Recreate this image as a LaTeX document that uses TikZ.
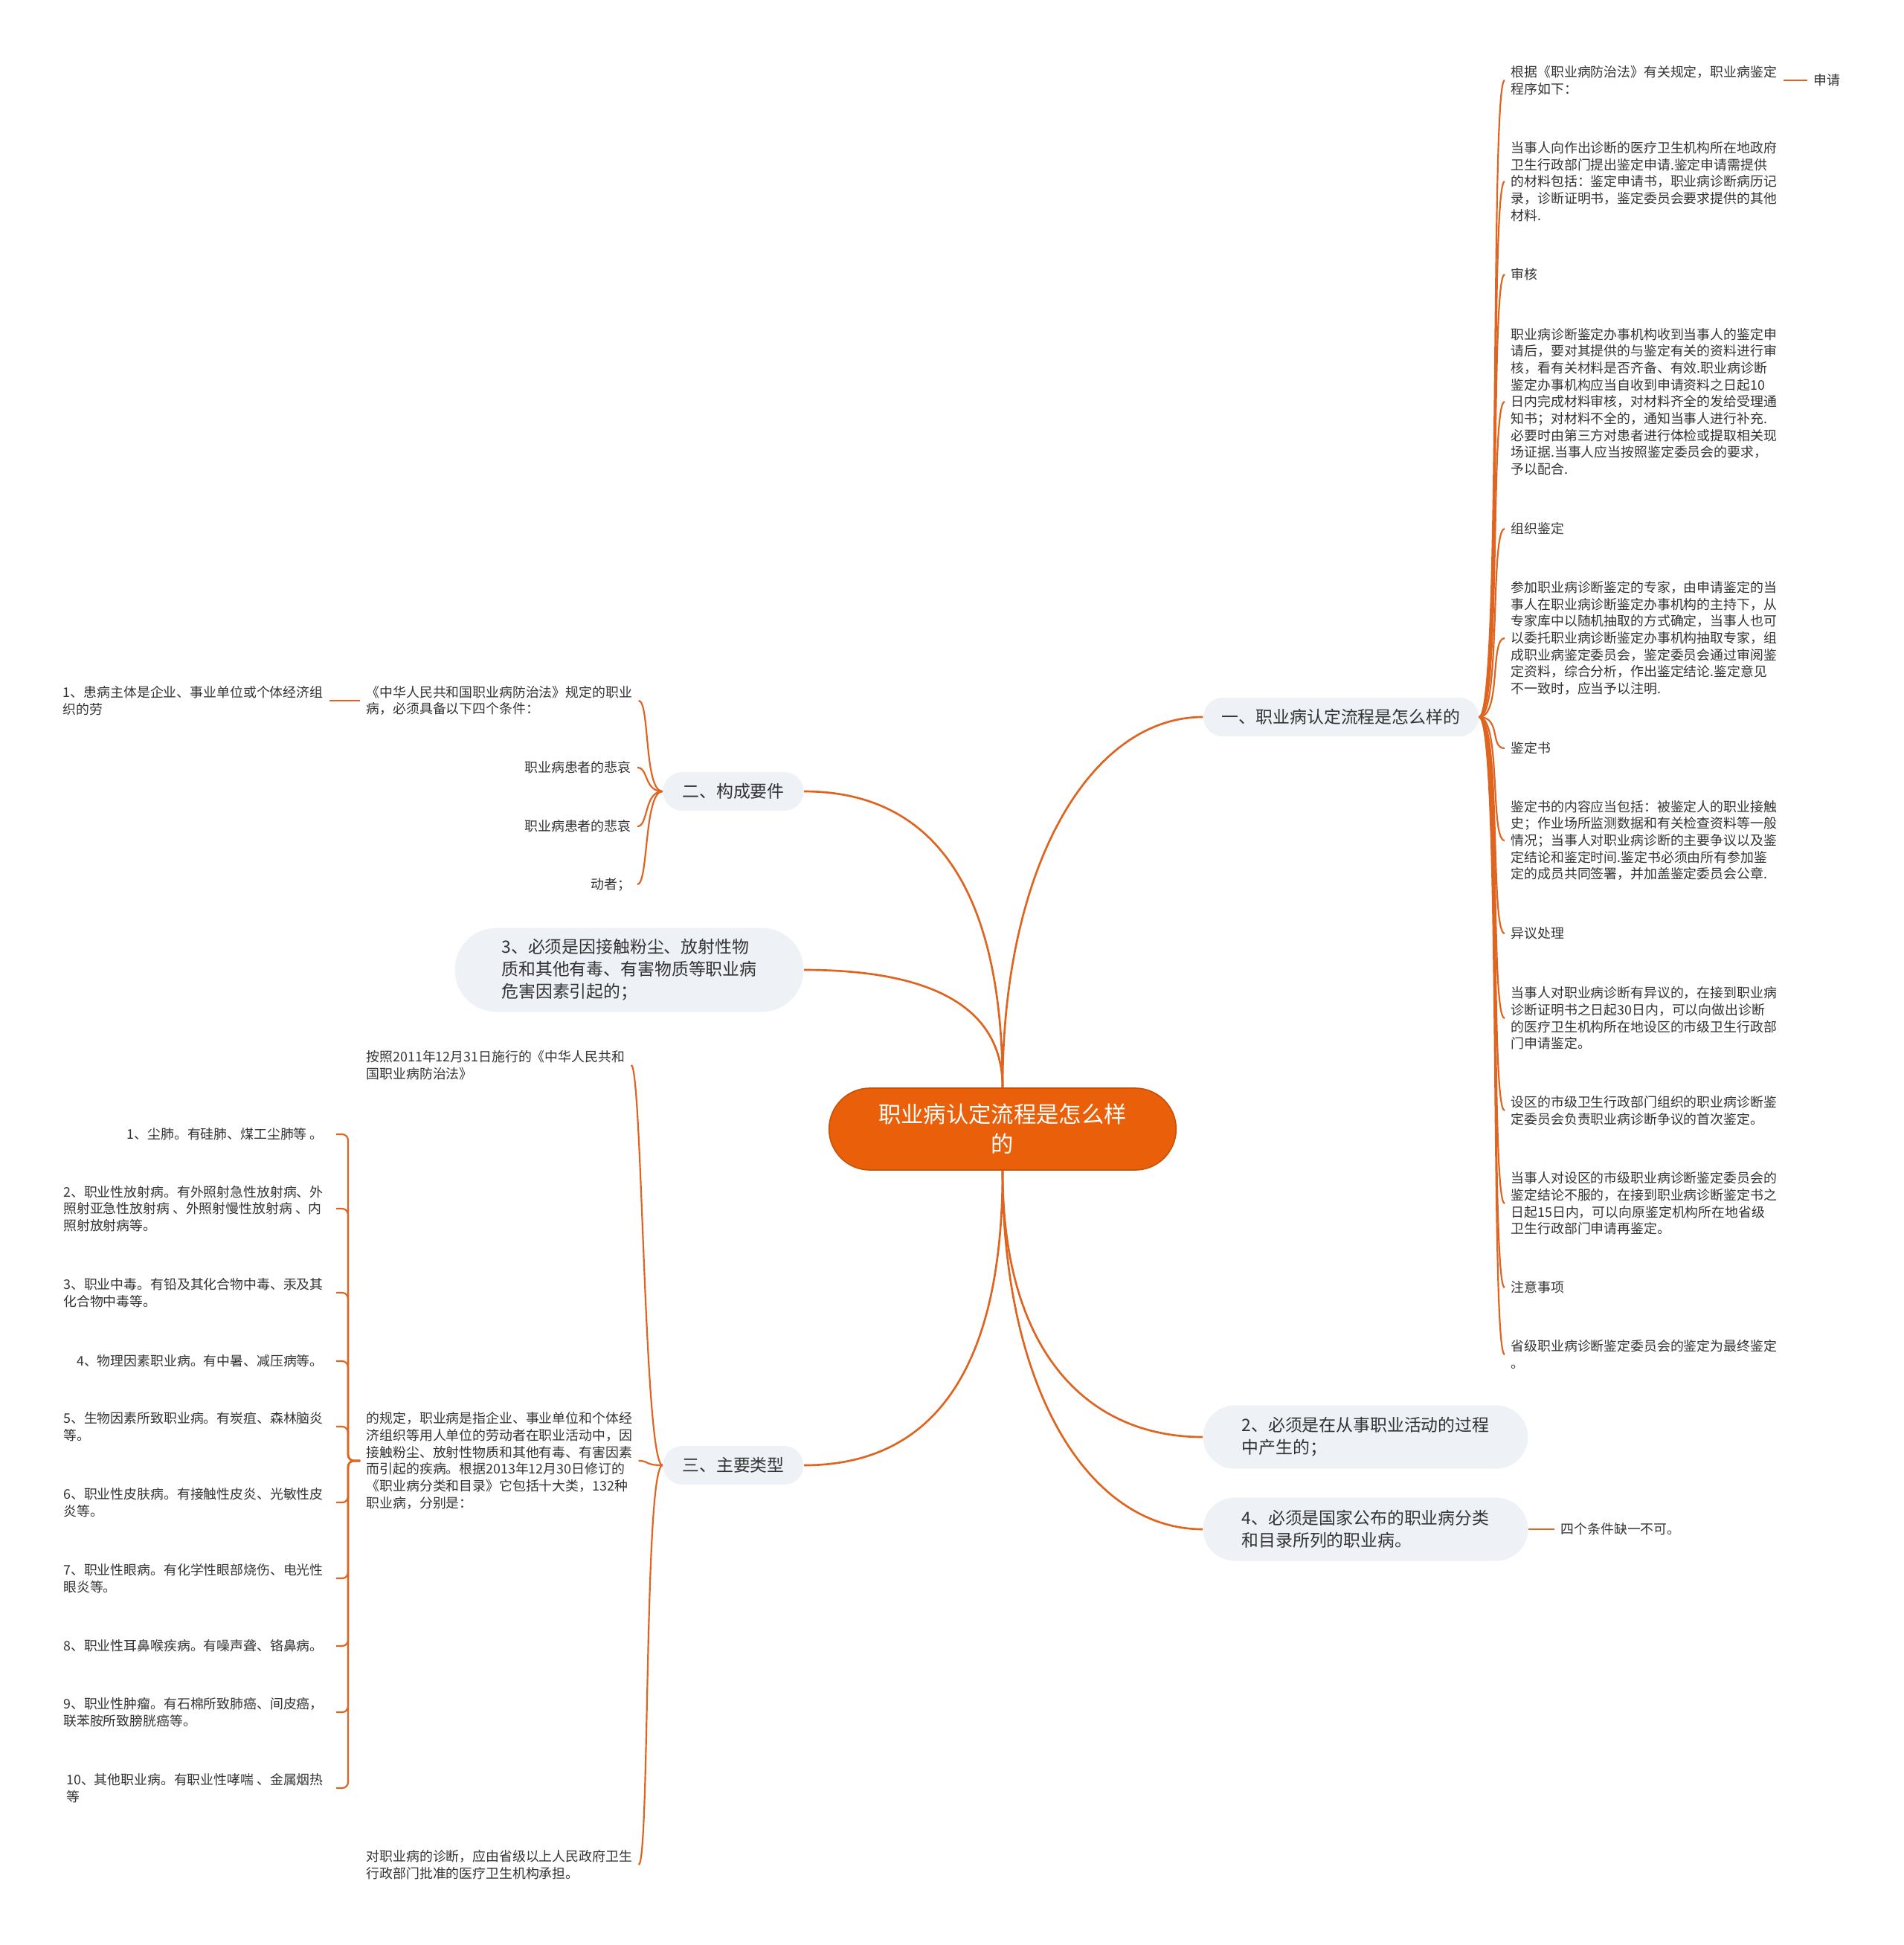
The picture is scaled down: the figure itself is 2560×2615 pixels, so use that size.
\documentclass[tikz,border=0pt]{standalone}
\usepackage{fontspec}
\setmainfont{Noto Sans CJK SC}

\definecolor{rootc}{HTML}{EA600A}
\definecolor{linkc}{HTML}{DE6420}
\definecolor{boxc}{HTML}{EEF1F5}
\definecolor{txtc}{HTML}{333333}

\newcommand{\topicfont}{\fontsize{9.1pt}{12pt}\selectfont}
\newcommand{\branchfont}{\fontsize{6.86pt}{9pt}\selectfont}
\newcommand{\leaffont}{\fontsize{5.36pt}{6.8pt}\selectfont}

\tikzset{
  topic/.style={fill=rootc, draw=rootc!85!black, line width=0.5pt, text=white,
    font=\topicfont, align=center, minimum width=140pt, minimum height=33pt,
    rounded corners=16.5pt},
  branch/.style={fill=boxc, text=txtc, font=\branchfont, align=left,
    minimum height=15.6pt, rounded corners=7.8pt},
  leaf/.style={text=txtc, font=\leaffont, align=left, inner xsep=2.4pt, inner ysep=1pt},
  link/.style={draw=linkc, line width=0.8pt},
  twig/.style={draw=linkc, line width=0.65pt},
}

\begin{document}
\begin{tikzpicture}[x=0.3pt, y=-0.3pt]
    \useasboundingbox (0,0) rectangle (2560,2615);

    % Central topic
    \node[topic] (root) at (1348,1518) {职业病认定流程是怎么样\\的};

    % Main branches
    \node[branch, minimum width=111pt] (b1) at (1803,964) {一、职业病认定流程是怎么样的};
    \node[branch, minimum width=56.7pt] (b2) at (986,1064) {二、构成要件};
    \node[branch, minimum width=140.7pt, minimum height=33.9pt, rounded corners=16.9pt] (n3) at (846,1304)
        {3、必须是因接触粉尘、放射性物\\质和其他有毒、有害物质等职业病\\危害因素引起的；};
    \node[branch, minimum width=56.7pt] (b3) at (986,1970) {三、主要类型};
    \node[branch, minimum width=131pt, minimum height=25.5pt, rounded corners=12.7pt] (n2) at (1836,1932)
        {2、必须是在从事职业活动的过程\\中产生的；};
    \node[branch, minimum width=131pt, minimum height=25.5pt, rounded corners=12.7pt] (n4) at (1836,2056)
        {4、必须是国家公布的职业病分类\\和目录所列的职业病。};

    % Branch 1: procedure
    \node[leaf, anchor=west] (r1) at (2023,108) {根据《职业病防治法》有关规定，职业病鉴定\\程序如下：};
    \node[leaf, anchor=west] (r2) at (2023,244) {当事人向作出诊断的医疗卫生机构所在地政府\\卫生行政部门提出鉴定申请.鉴定申请需提供\\的材料包括：鉴定申请书，职业病诊断病历记\\录，诊断证明书，鉴定委员会要求提供的其他\\材料.};
    \node[leaf, anchor=west] (r3) at (2023,369) {审核};
    \node[leaf, anchor=west] (r4) at (2023,540) {职业病诊断鉴定办事机构收到当事人的鉴定申\\请后，要对其提供的与鉴定有关的资料进行审\\核，看有关材料是否齐备、有效.职业病诊断\\鉴定办事机构应当自收到申请资料之日起10\\日内完成材料审核，对材料齐全的发给受理通\\知书；对材料不全的，通知当事人进行补充.\\必要时由第三方对患者进行体检或提取相关现\\场证据.当事人应当按照鉴定委员会的要求，\\予以配合.};
    \node[leaf, anchor=west] (r5) at (2023,711) {组织鉴定};
    \node[leaf, anchor=west] (r6) at (2023,858) {参加职业病诊断鉴定的专家，由申请鉴定的当\\事人在职业病诊断鉴定办事机构的主持下，从\\专家库中以随机抽取的方式确定，当事人也可\\以委托职业病诊断鉴定办事机构抽取专家，组\\成职业病鉴定委员会，鉴定委员会通过审阅鉴\\定资料，综合分析，作出鉴定结论.鉴定意见\\不一致时，应当予以注明.};
    \node[leaf, anchor=west] (r7) at (2023,1006) {鉴定书};
    \node[leaf, anchor=west] (r8) at (2023,1130) {鉴定书的内容应当包括：被鉴定人的职业接触\\史；作业场所监测数据和有关检查资料等一般\\情况；当事人对职业病诊断的主要争议以及鉴\\定结论和鉴定时间.鉴定书必须由所有参加鉴\\定的成员共同签署，并加盖鉴定委员会公章.};
    \node[leaf, anchor=west] (r9) at (2023,1255) {异议处理};
    \node[leaf, anchor=west] (r10) at (2023,1369) {当事人对职业病诊断有异议的，在接到职业病\\诊断证明书之日起30日内，可以向做出诊断\\的医疗卫生机构所在地设区的市级卫生行政部\\门申请鉴定。};
    \node[leaf, anchor=west] (r11) at (2023,1493) {设区的市级卫生行政部门组织的职业病诊断鉴\\定委员会负责职业病诊断争议的首次鉴定。};
    \node[leaf, anchor=west] (r12) at (2023,1618) {当事人对设区的市级职业病诊断鉴定委员会的\\鉴定结论不服的，在接到职业病诊断鉴定书之\\日起15日内，可以向原鉴定机构所在地省级\\卫生行政部门申请再鉴定。};
    \node[leaf, anchor=west] (r13) at (2023,1731) {注意事项};
    \node[leaf, anchor=west] (r14) at (2023,1821) {省级职业病诊断鉴定委员会的鉴定为最终鉴定\\。};
    \node[leaf, anchor=west] (s1) at (2430,108) {申请};

    % Branch 2: conditions
    \node[leaf, anchor=west] (a1) at (484,942) {《中华人民共和国职业病防治法》规定的职业\\病，必须具备以下四个条件：};
    \node[leaf, anchor=east] (a0) at (443,942) {1、患病主体是企业、事业单位或个体经济组\\织的劳};
    \node[leaf, anchor=east] (a2) at (857,1032) {职业病患者的悲哀};
    \node[leaf, anchor=east] (a3) at (857,1111) {职业病患者的悲哀};
    \node[leaf, anchor=east] (a4) at (857,1189) {动者；};

    % Branch 3: types
    \node[leaf, anchor=west] (c1) at (484,1432) {按照2011年12月31日施行的《中华人民共和\\国职业病防治法》};
    \node[leaf, anchor=west] (c2) at (484,1964) {的规定，职业病是指企业、事业单位和个体经\\济组织等用人单位的劳动者在职业活动中，因\\接触粉尘、放射性物质和其他有毒、有害因素\\而引起的疾病。根据2013年12月30日修订的\\《职业病分类和目录》它包括十大类，132种\\职业病，分别是：};
    \node[leaf, anchor=west] (c3) at (484,2507) {对职业病的诊断，应由省级以上人民政府卫生\\行政部门批准的医疗卫生机构承担。};

    \node[leaf, anchor=east, inner xsep=5pt] (d1) at (452,1525) {1、尘肺。有硅肺、煤工尘肺等 。};
    \node[leaf, anchor=east, inner xsep=5pt] (d2) at (452,1625) {2、职业性放射病。有外照射急性放射病、外\\照射亚急性放射病 、外照射慢性放射病 、内\\照射放射病等。};
    \node[leaf, anchor=east, inner xsep=5pt] (d3) at (452,1738) {3、职业中毒。有铅及其化合物中毒、汞及其\\化合物中毒等。};
    \node[leaf, anchor=east, inner xsep=5pt] (d4) at (452,1830) {4、物理因素职业病。有中暑、减压病等。};
    \node[leaf, anchor=east, inner xsep=5pt] (d5) at (452,1918) {5、生物因素所致职业病。有炭疽、森林脑炎\\等。};
    \node[leaf, anchor=east, inner xsep=5pt] (d6) at (452,2020) {6、职业性皮肤病。有接触性皮炎、光敏性皮\\炎等。};
    \node[leaf, anchor=east, inner xsep=5pt] (d7) at (452,2122) {7、职业性眼病。有化学性眼部烧伤、电光性\\眼炎等。};
    \node[leaf, anchor=east, inner xsep=5pt] (d8) at (452,2213) {8、职业性耳鼻喉疾病。有噪声聋、铬鼻病。};
    \node[leaf, anchor=east, inner xsep=5pt] (d9) at (452,2302) {9、职业性肿瘤。有石棉所致肺癌、间皮癌，\\联苯胺所致膀胱癌等。};
    \node[leaf, anchor=east, inner xsep=5pt] (d10) at (452,2404) {10、其他职业病。有职业性哮喘 、金属烟热\\等};

    % Condition 4 note
    \node[leaf, anchor=west] (e1) at (2090,2056) {四个条件缺一不可。};

    % Root to branches
    \draw[link] (root.north) .. controls +(0,-300) and +(-150,0) .. (b1.west);
    \draw[link] (root.north) .. controls +(0,-300) and +(150,0) .. (b2.east);
    \draw[link] (root.north) .. controls +(0,-120) and +(150,0) .. (n3.east);
    \draw[link] (root.south) .. controls +(0,300) and +(150,0) .. (b3.east);
    \draw[link] (root.south) .. controls +(0,250) and +(-150,0) .. (n2.west);
    \draw[link] (root.south) .. controls +(0,300) and +(-150,0) .. (n4.west);

    % Leaves
    \foreach \i in {1,...,14}
        \draw[twig] (b1.east) .. controls +(30,0) and +(-20,0) .. (r\i.west);
    \draw[twig] (r1.east) -- (s1.west);

    \foreach \n in {a1,a2,a3,a4}
        \draw[twig] (b2.west) .. controls +(-25,0) and +(15,0) .. (\n.east);
    \draw[twig] (a1.west) -- (a0.east);

    \foreach \n in {c1,c2,c3}
        \draw[twig] (b3.west) .. controls +(-25,0) and +(15,0) .. (\n.east);
    \foreach \i in {1,...,10}
        \draw[twig, rounded corners=2.4pt] (c2.west) -- ++(-16,0) |- (d\i.east);

    \draw[twig] (n4.east) -- (e1.west);
\end{tikzpicture}
\end{document}
